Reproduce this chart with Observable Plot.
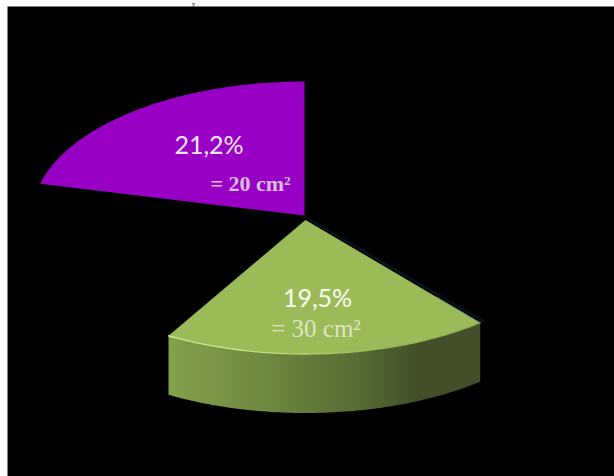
<!DOCTYPE html>
<html>
<head>
<meta charset="utf-8">
<script src="https://cdn.jsdelivr.net/npm/d3@7"></script>
<script src="https://cdn.jsdelivr.net/npm/@observablehq/plot@0.6"></script>
<style>html,body{margin:0;padding:0;background:#fff}svg{display:block}</style>
</head>
<body>
<div id="chart"></div>
<script>
// Slice shares, clockwise from 12 o'clock (two are black on black).
const sliceNames = ["a", "b", "c", "d"];
const sliceShares = [38.9, 19.5, 20.4, 21.2];
const sliceColors = ["#000000", "#9bbb59", "#000000", "#9900c6"];
const percentLabels = ["19,5%", "21,2%"];
const areaLabels = ["= 30 cm²", "= 20 cm²"];

const W = 614, H = 476;
const unit = 272, tilt = 134 / 272;        // pie radius in px, ellipse flattening
const cx = 304, cy = 215;                  // pie centre in px
const depth = 59 / unit;                   // height of the raised slice
const ux = px => (px - cx) / unit;
const uy = px => (cy - px) / unit;

// Angles of each slice from the shares
let run = 0;
const slices = sliceNames.map((name, i) => {
  const start = run / 100 * 2 * Math.PI;
  run += sliceShares[i];
  return {name, start, end: run / 100 * 2 * Math.PI, color: sliceColors[i]};
});
const offsets = {a: [0, 0], b: [1 / unit, -4.5 / unit], c: [0, 0], d: [0, 0]};

function arcPts(s, dy = 0) {
  const [ox, oy] = offsets[s.name];
  const n = 80, out = [];
  for (let i = 0; i <= n; i++) {
    const t = s.start + (s.end - s.start) * i / n;
    out.push({x: ox + Math.sin(t), y: oy + Math.cos(t) * tilt + dy});
  }
  return out;
}
const wedge = s => {
  const [ox, oy] = offsets[s.name];
  return [{x: ox, y: oy}, ...arcPts(s)];
};
const [sA, sGreen, sC, sPurple] = slices;
const topArc = arcPts(sGreen);
const sidePoly = [...topArc, ...arcPts(sGreen, -depth).reverse()];
const gApex = wedge(sGreen)[0];
const gRight = topArc[0];
const along = f => ({x: gApex.x + (gRight.x - gApex.x) * f, y: gApex.y + (gRight.y - gApex.y) * f});

const gradient = () => {
  const ns = "http://www.w3.org/2000/svg";
  const defs = document.createElementNS(ns, "defs");
  defs.innerHTML = `
    <linearGradient id="side" x1="0" x2="1" y1="0" y2="0">
      <stop offset="0" stop-color="#84a14b"/>
      <stop offset="0.3" stop-color="#6f8a41"/>
      <stop offset="0.6" stop-color="#566d34"/>
      <stop offset="0.8" stop-color="#424f29"/>
      <stop offset="1" stop-color="#424f29"/>
    </linearGradient>
    <linearGradient id="hl" x1="0" x2="1" y1="0" y2="0">
      <stop offset="0" stop-color="#d4ee8c"/>
      <stop offset="0.35" stop-color="#c4df80"/>
      <stop offset="0.65" stop-color="#9bbb59"/>
      <stop offset="1" stop-color="#8aa84f"/>
    </linearGradient>`;
  return defs;
};

const plot = Plot.plot({
  width: W, height: H, margin: 0,
  x: {domain: [ux(0), ux(W)], range: [0, W], axis: null},
  y: {domain: [uy(0), uy(H)], range: [0, H], axis: null},
  style: {background: "#fff"},
  marks: [
    gradient,
    Plot.text(["y"], {x: ux(193), y: uy(5.5), text: d => d, fill: "#222", fontSize: 7, lineAnchor: "bottom", fontFamily: "Liberation Serif"}),
    Plot.frame({fill: "#000", stroke: "none", insetLeft: 7, insetTop: 6}),
    ...[sA, sC].map(s => Plot.line(wedge(s), {x: "x", y: "y", fill: s.color, stroke: "none"})),
    Plot.line([{x: gApex.x + 3 / unit, y: gApex.y + 1 / unit}, {x: gRight.x + 4 / unit, y: gRight.y + 1 / unit}], {x: "x", y: "y", stroke: "#0a1822", strokeWidth: 2.5, strokeOpacity: 0.8}),
    Plot.line(sidePoly, {x: "x", y: "y", fill: "url(#side)", stroke: "none"}),
    Plot.line(wedge(sGreen), {x: "x", y: "y", fill: sGreen.color, stroke: "none"}),
    Plot.line([along(0.75), gRight], {x: "x", y: "y", stroke: "#5f9aa0", strokeWidth: 0.8, strokeOpacity: 0.8}),
    Plot.line(topArc, {x: "x", y: "y", stroke: "url(#hl)", strokeWidth: 1.3}),
    Plot.line(wedge(sPurple), {x: "x", y: "y", fill: sPurple.color, stroke: "none"}),
    Plot.text([percentLabels[1]], {x: ux(208.5), y: uy(153), text: d => d, fill: "#f3e6f6", fontSize: 25, fontFamily: "Lato", lineAnchor: "bottom"}),
    Plot.text([areaLabels[1]], {x: ux(250), y: uy(190), text: d => d, fill: "#d6bfdc", fontSize: 22, fontWeight: 700, fontFamily: "Liberation Serif", lineAnchor: "bottom"}),
    Plot.text([percentLabels[0]], {x: ux(317), y: uy(306), text: d => d, fill: "#fbfdf3", fontSize: 25, fontFamily: "Lato", lineAnchor: "bottom"}),
    Plot.text([areaLabels[0]], {x: ux(315.5), y: uy(336), text: d => d, fill: "#dbe5bf", fontSize: 25, fontFamily: "Liberation Serif", lineAnchor: "bottom"})
  ]
});
document.getElementById("chart").appendChild(plot);
</script>
</body>
</html>
